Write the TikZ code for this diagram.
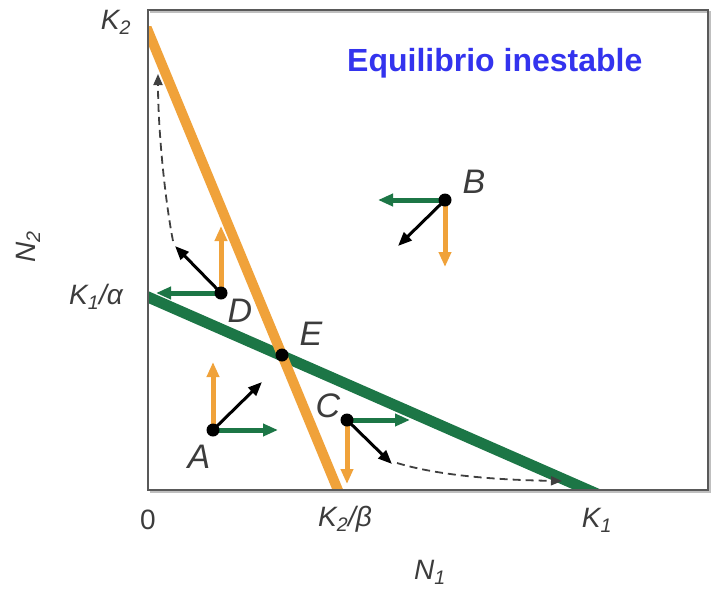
\documentclass[tikz,border=0pt]{standalone}
\usepackage{fontspec}
\setmainfont{Liberation Sans}
\usetikzlibrary{arrows.meta}
\definecolor{orng}{RGB}{240,162,58}
\definecolor{grn}{RGB}{28,118,70}
\definecolor{ttl}{RGB}{51,51,238}
\definecolor{lab}{RGB}{60,60,60}
\begin{document}
\begin{tikzpicture}[x=1pt,y=-1pt,
  axlab/.style={font=\itshape\fontsize{28}{28}\selectfont, text=lab, inner sep=0pt},
  ptlab/.style={font=\itshape\fontsize{34}{34}\selectfont, text=lab, inner sep=0pt},
  dot/.style={circle, fill=black, inner sep=0pt, minimum size=13pt},
  oarr/.style={draw=orng, line width=5pt, -{Triangle[length=15pt,width=12pt]}},
  garr/.style={draw=grn, line width=5pt, -{Triangle[length=15pt,width=12pt]}},
  karr/.style={draw=black, line width=3pt, -{Triangle[length=14pt,width=11pt]}},
  darr/.style={draw=black!75, line width=1.8pt, dash pattern=on 8pt off 5pt, -{Triangle[length=11pt,width=9pt]}},
  isol/.style={line width=#1},
]
\useasboundingbox (0,0) rectangle (721,590);
\fill[white] (0,0) rectangle (721,590);
% isoclines
\coordinate (g1) at (140,293.5);
\coordinate (g2) at (600,495.2);
\coordinate (o1) at (135.2,0);
\coordinate (o2) at (342,500);
\begin{scope}
  \clip (148,10) rectangle (708,490);
  \draw[grn, isol=11pt] (g1) -- (g2);
\end{scope}
\begin{scope}
  \clip (148,26) rectangle (708,490);
  \draw[orng, isol=10pt] (o1) -- (o2);
\end{scope}
% frame
\draw[black!25, line width=2pt] (150,12) -- (710,12) -- (710,492) -- (150,492);
\draw[black!65, line width=1.6pt] (148,10) rectangle (708,490);
% points
\coordinate (Ap) at (213,430);
\coordinate (Bp) at (445,200);
\coordinate (Cp) at (347,420);
\coordinate (Dp) at (221,293);
% arrow ends
\coordinate (Ao) at (213,362);
\coordinate (Ag) at (278,430);
\coordinate (Ak) at (262,382);
\coordinate (Cg) at (410,420);
\coordinate (Co) at (347,484);
\coordinate (Ck) at (392,464);
\coordinate (Dg) at (156,293);
\coordinate (Do) at (221,226);
\coordinate (Dk) at (175,246);
\coordinate (Bg) at (378,200);
\coordinate (Bo) at (445,267);
\coordinate (Bk) at (398,246);
\coordinate (Ds) at (173,241);
\coordinate (De) at (158,74);
\coordinate (Cs) at (397,463);
\coordinate (Ce) at (562,481);
% A
\draw[oarr] (Ap) -- (Ao);
\draw[garr] (Ap) -- (Ag);
\draw[karr] (Ap) -- (Ak);
% B
\draw[garr] (Bp) -- (Bg);
\draw[oarr] (Bp) -- (Bo);
\draw[karr] (Bp) -- (Bk);
% C
\draw[garr] (Cp) -- (Cg);
\draw[oarr] (Cp) -- (Co);
\draw[karr] (Cp) -- (Ck);
% D
\draw[garr] (Dp) -- (Dg);
\draw[oarr] (Dp) -- (Do);
\draw[karr] (Dp) -- (Dk);
% trajectories
\draw[darr] (Ds) .. controls (165,200) and (158,130) .. (De);
\draw[darr] (Cs) .. controls (440,476) and (500,480) .. (Ce);
% dots
\node[dot] (A) at (Ap) {};
\node[dot] (B) at (Bp) {};
\node[dot] (C) at (Cp) {};
\node[dot] (D) at (Dp) {};
\node[dot] (E) at (282,355) {};
% point labels
\node[ptlab] (lA) at (199,457) {A};
\node[ptlab] (lB) at (474,182) {B};
\node[ptlab] (lC) at (328,406) {C};
\node[ptlab] (lD) at (240,311) {D};
\node[ptlab] (lE) at (311,334) {E};
% axis labels
\node[axlab] (lK2) at (116,22) {K\textsubscript{2}};
\node[axlab] (lK1a) at (96,297) {K\textsubscript{1}/α};
\node[axlab, rotate=90] (lN2) at (28,247) {N\textsubscript{2}};
\node[axlab] (l0) at (148,520) {\upshape 0};
\node[axlab] (lK2b) at (345,519) {K\textsubscript{2}/β};
\node[axlab] (lK1) at (597,520) {K\textsubscript{1}};
\node[axlab] (lN1) at (430,572) {N\textsubscript{1}};
% title
\node[font=\bfseries\fontsize{32}{32}\selectfont, text=ttl, inner sep=0pt, anchor=base west] (title) at (347,71) {Equilibrio inestable};
\end{tikzpicture}
\end{document}
